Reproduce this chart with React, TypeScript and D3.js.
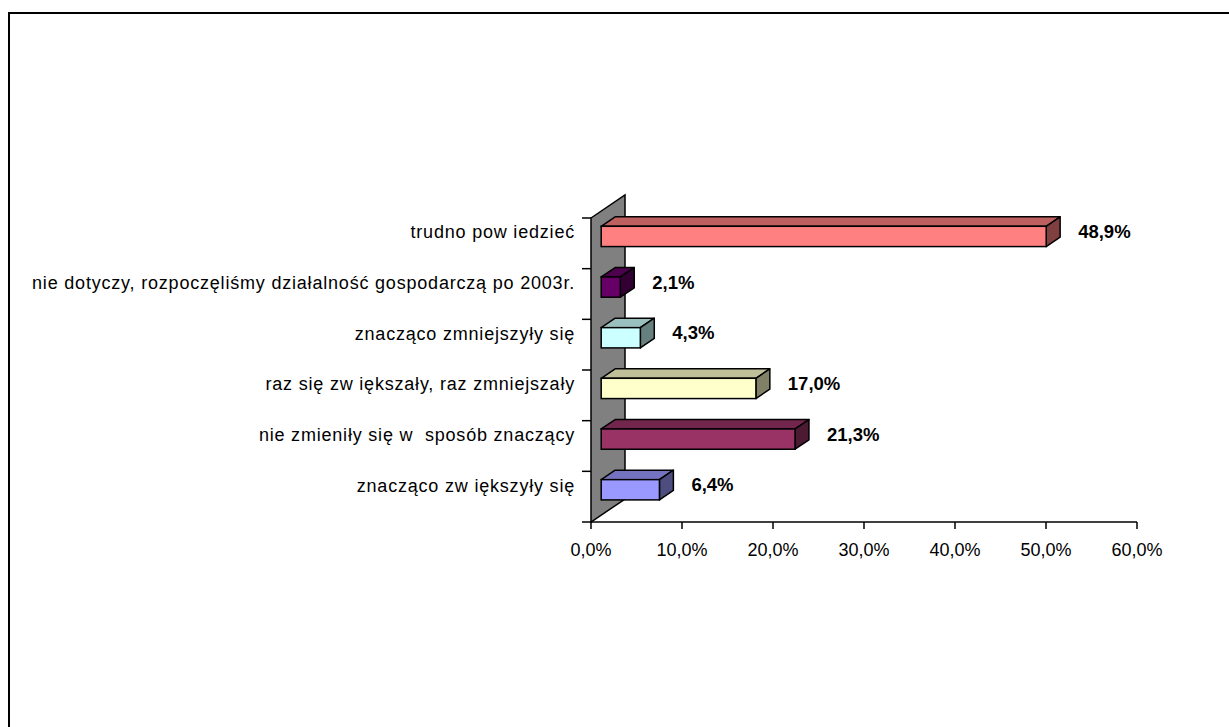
import { FC } from "react";
import * as d3 from "d3";

// categories listed top to bottom, as in the picture
const categories = [
  "trudno pow iedzieć",
  "nie dotyczy, rozpoczęliśmy działalność gospodarczą po 2003r.",
  "znacząco zmniejszyły się",
  "raz się zw iększały, raz zmniejszały",
  "nie zmieniły się w  sposób znaczący",
  "znacząco zw iększyły się",
];
const values = [0.489, 0.021, 0.043, 0.17, 0.213, 0.064];
const xTicks = [0, 0.1, 0.2, 0.3, 0.4, 0.5, 0.6];

const palette = ["#FF8080", "#660066", "#CCFFFF", "#FFFFCC", "#993366", "#9999FF"];

const WIDTH = 1229;
const HEIGHT = 727;
const PLOT = { left: 591, right: 1137, top: 218, bottom: 522 };
const DEPTH = { dx: 34, dy: -23 };
const BAR_FRONT = 0.3; // bars sit in the middle of the depth
const BAR_BACK = 0.71;
const FONT = "'Liberation Sans', Arial, sans-serif";

const locale = d3.formatLocale({
  decimal: ",",
  thousands: " ",
  grouping: [3],
  currency: ["", " zł"],
});
const fmt = locale.format(".1%");

const shade = (c: string, k: number) => {
  const rgb = d3.rgb(c);
  return d3.rgb(rgb.r * k, rgb.g * k, rgb.b * k).formatHex();
};

const App: FC = () => {
  const xScale = d3.scaleLinear().domain([0, 0.6]).range([PLOT.left, PLOT.right]);
  const yScale = d3
    .scaleBand<string>()
    .domain(categories)
    .range([PLOT.top, PLOT.bottom])
    .paddingInner(0)
    .paddingOuter(0);

  const bw = yScale.bandwidth();
  const thick = bw * 0.4;
  const ox = DEPTH.dx * BAR_FRONT;
  const oy = DEPTH.dy * BAR_FRONT;
  const bdx = DEPTH.dx * (BAR_BACK - BAR_FRONT);
  const bdy = DEPTH.dy * (BAR_BACK - BAR_FRONT);

  const x0 = xScale(0);

  const wall = [
    [x0, PLOT.top],
    [x0 + DEPTH.dx, PLOT.top + DEPTH.dy],
    [x0 + DEPTH.dx, PLOT.bottom + DEPTH.dy],
    [x0, PLOT.bottom],
  ];

  const bars = categories.map((c, i) => {
    const center = (yScale(c) ?? 0) + bw / 2 + oy;
    const yt = center - thick / 2;
    const yb = center + thick / 2;
    const xa = x0 + ox;
    const xb = xScale(values[i]) + ox;
    const col = palette[i];
    const top = [
      [xa, yt],
      [xb, yt],
      [xb + bdx, yt + bdy],
      [xa + bdx, yt + bdy],
    ];
    const side = [
      [xb, yt],
      [xb + bdx, yt + bdy],
      [xb + bdx, yb + bdy],
      [xb, yb],
    ];
    return (
      <g key={c}>
        <polygon
          points={top.join(" ")}
          fill={shade(col, 0.75)}
          stroke="#000"
          strokeWidth={1.5}
          strokeLinejoin="round"
        />
        <polygon
          points={side.join(" ")}
          fill={shade(col, 0.5)}
          stroke="#000"
          strokeWidth={1.5}
          strokeLinejoin="round"
        />
        <rect
          x={xa}
          y={yt}
          width={xb - xa}
          height={thick}
          fill={col}
          stroke="#000"
          strokeWidth={1.5}
        />
        <text
          x={xb + bdx + 18}
          y={center - 5}
          dominantBaseline="central"
          fontFamily={FONT}
          fontWeight="bold"
          fontSize={18.5}
          fill="#000"
        >
          {fmt(values[i])}
        </text>
        <text
          x={575}
          y={center - 4}
          dominantBaseline="central"
          textAnchor="end"
          fontFamily={FONT}
          fontSize={18}
          letterSpacing={0.8}
          style={{ whiteSpace: "pre" }}
          fill="#000"
        >
          {c}
        </text>
      </g>
    );
  });

  // category separators on the value axis
  const yTicks = [PLOT.top, ...categories.map((c) => (yScale(c) ?? 0) + bw)];

  return (
    <div style={{ position: "absolute", left: 0, top: 0 }}>
      <svg width={WIDTH} height={HEIGHT} style={{ display: "block", background: "#fff" }}>
        <rect x={9} y={13} width={1400} height={900} fill="#fff" stroke="#000" strokeWidth={2} />

        <polygon points={wall.join(" ")} fill="#808080" stroke="#000" strokeWidth={1.5} />

        {yTicks.map((y, i) => (
          <line key={i} x1={x0 - 9} x2={x0} y1={y} y2={y} stroke="#000" strokeWidth={1.5} />
        ))}

        <line x1={x0} x2={xScale(0.6)} y1={PLOT.bottom} y2={PLOT.bottom} stroke="#000" strokeWidth={1.5} />
        {xTicks.map((t) => (
          <g key={t}>
            <line
              x1={xScale(t)}
              x2={xScale(t)}
              y1={PLOT.bottom}
              y2={PLOT.bottom + 7}
              stroke="#000"
              strokeWidth={1.5}
            />
            <text
              x={xScale(t)}
              y={550}
              textAnchor="middle"
              dominantBaseline="central"
              fontFamily={FONT}
              fontSize={18}
              fill="#000"
            >
              {fmt(t)}
            </text>
          </g>
        ))}

        {bars}
      </svg>
    </div>
  );
};

export default App;
